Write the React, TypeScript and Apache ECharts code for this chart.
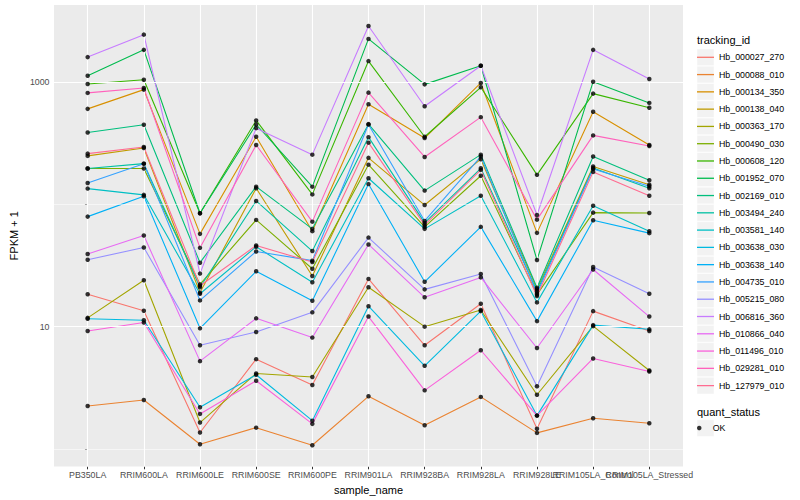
import React, { useEffect, useRef } from "react";
import * as echarts from "echarts";

const categories = [
  "PB350LA", "RRIM600LA", "RRIM600LE", "RRIM600SE", "RRIM600PE", "RRIM901LA",
  "RRIM928BA", "RRIM928LA", "RRIM928LE", "RRIM105LA_Control", "RRIM105LA_Stressed",
];

const trackingIds = [
  "Hb_000027_270", "Hb_000088_010", "Hb_000134_350", "Hb_000138_040", "Hb_000363_170",
  "Hb_000490_030", "Hb_000608_120", "Hb_001952_070", "Hb_002169_010", "Hb_003494_240",
  "Hb_003581_140", "Hb_003638_030", "Hb_003638_140", "Hb_004735_010", "Hb_005215_080",
  "Hb_006816_360", "Hb_010866_040", "Hb_011496_010", "Hb_029281_010", "Hb_127979_010",
];

const colors = [
  "#F8766D", "#EA8331", "#D89000", "#C09B00", "#A3A500", "#7CAE00", "#39B600", "#00BB4E",
  "#00BF7D", "#00C1A3", "#00BFC4", "#00BAE0", "#00B0F6", "#35A2FF", "#9590FF", "#C77CFF",
  "#E76BF3", "#FA62DB", "#FF62BC", "#FF6C91",
];

// FPKM + 1 per sample (order of categories)
const hb000027_270 = [18.4, 13.5, 1.36, 5.42, 3.33, 24.6, 7.04, 15.4, 1.46, 13.4, 9.21];
const hb000088_010 = [2.24, 2.51, 1.09, 1.49, 1.07, 2.69, 1.56, 2.66, 1.35, 1.78, 1.62];
const hb000134_350 = [607, 872, 57.5, 359, 60.5, 662, 350, 989, 58.6, 574, 307];
const hb000138_040 = [250, 290, 19.0, 136, 26.0, 241, 99, 235, 20.3, 205, 145];
const hb000363_170 = [11.8, 24.0, 1.64, 4.14, 3.87, 21.0, 10.0, 13.7, 2.77, 10.1, 4.38];
const hb000490_030 = [197, 197, 22.2, 74.8, 29.8, 212, 65.6, 172, 18.3, 85.8, 85.3];
const hb000608_120 = [970, 1052, 84.8, 488, 121, 1494, 359, 911, 175, 809, 619];
const hb001952_070 = [1134, 1846, 84.8, 452, 140, 2269, 963, 1368, 35.1, 1013, 679];
const hb002169_010 = [389, 450, 33.4, 140, 63.2, 455, 130, 256, 20.8, 247, 158];
const hb003494_240 = [197, 216, 21.0, 107, 41.6, 356, 70.7, 198, 19.5, 199, 136];
const hb003581_140 = [135, 120, 18.6, 45.1, 23.1, 164, 63.2, 118, 15.8, 97.8, 60.5];
const hb003638_030 = [11.6, 11.3, 2.19, 4.04, 1.70, 14.7, 4.78, 13.4, 1.87, 10.3, 9.51];
const hb003638_140 = [79.6, 117, 9.69, 28.4, 16.3, 147, 23.3, 65.6, 11.1, 74.3, 58.3];
const hb004735_010 = [150, 216, 16.4, 41.3, 34.7, 452, 73.4, 247, 18.8, 195, 141];
const hb005215_080 = [35.3, 44.5, 7.04, 9.04, 13.1, 53.6, 20.2, 27.0, 3.25, 30.8, 18.6];
const hb006816_360 = [1610, 2459, 27.2, 422, 256, 2894, 638, 1368, 82.1, 1846, 1066];
const hb010866_040 = [39.3, 55.7, 5.22, 11.7, 8.14, 47.1, 17.4, 25.3, 6.69, 29.4, 12.1];
const hb011496_010 = [9.21, 10.8, 1.93, 3.61, 1.60, 12.1, 3.01, 6.41, 1.87, 5.49, 4.30];
const hb029281_010 = [820, 900, 44.2, 307, 72.4, 824, 245, 519, 75.2, 368, 301];
const hb127979_010 = [261, 296, 21.6, 46.2, 33.8, 321, 68.1, 192, 17.8, 185, 118];

const seriesValues = [
  hb000027_270, hb000088_010, hb000134_350, hb000138_040, hb000363_170,
  hb000490_030, hb000608_120, hb001952_070, hb002169_010, hb003494_240,
  hb003581_140, hb003638_030, hb003638_140, hb004735_010, hb005215_080,
  hb006816_360, hb010866_040, hb011496_010, hb029281_010, hb127979_010,
];

const yLabelValues = [10, 1000];
const yMajorGrid = [10, 1000];
const yMinorGrid = [1, 100];
const quantStatus = ["OK"];

const FONT = "'Liberation Sans', Arial, Helvetica, sans-serif";

export default function App() {
  const ref = useRef<HTMLDivElement>(null);

  useEffect(() => {
    if (!ref.current) return;
    const chart = echarts.init(ref.current, null, { renderer: "svg" });

    const catIdx = categories.map((_, i) => i);
    const X_MIN = -0.6;
    const X_MAX = categories.length - 1 + 0.6;
    // padded label positions: the outer two are blank placeholders so that no
    // real category label is dropped by the min/max overlap rule
    const labelPositions = [X_MIN, ...catIdx, X_MAX];

    const lineSeries = trackingIds.map((id, s) => ({
      name: id,
      type: "line",
      data: seriesValues[s].map((v, j) => [j, v]),
      symbol: "none",
      showSymbol: false,
      lineStyle: { color: colors[s], width: 1.1 },
      itemStyle: { color: colors[s] },
      z: 3,
      silent: true,
    }));

    const points: number[][] = [];
    seriesValues.forEach((vals) => vals.forEach((v, j) => points.push([j, v])));

    const legendTop = 48.66;
    const legendStep = 17.28;
    const keyRects = trackingIds.map((_, i) => ({
      type: "rect",
      shape: { x: 697, y: legendTop + i * legendStep + 0.3, width: 17, height: legendStep - 0.6 },
      style: { fill: "#F2F2F2", stroke: "#FFFFFF", lineWidth: 0.5 },
      z: 0,
    }));

    const okTop = 419.4;

    const isLabelValue = (v: number) => yLabelValues.some((t) => Math.abs(v - t) / t < 1e-3);

    const option: any = {
      animation: false,
      backgroundColor: "#FFFFFF",
      textStyle: { fontFamily: FONT },
      grid: {
        left: 46,
        right: 117,
        top: 5,
        bottom: 31,
        show: true,
        backgroundColor: "#EBEBEB",
        borderWidth: 0,
      },
      xAxis: {
        type: "value",
        min: X_MIN,
        max: X_MAX,
        name: "sample_name",
        nameLocation: "middle",
        nameGap: 13,
        nameTextStyle: { fontSize: 11, color: "#000000", fontFamily: FONT, verticalAlign: "top" },
        axisLine: { show: false },
        splitLine: { show: false },
        axisTick: {
          show: true,
          customValues: catIdx,
          length: 2.7,
          lineStyle: { color: "#333333", width: 1 },
        },
        axisLabel: {
          customValues: labelPositions,
          showMinLabel: false,
          showMaxLabel: false,
          formatter: (v: number) => {
            const i = Math.round(v);
            return Math.abs(v - i) < 1e-6 && categories[i] ? categories[i] : " ";
          },
          fontSize: 8.8,
          color: "#4D4D4D",
          margin: 3.5,
          fontFamily: FONT,
          hideOverlap: false,
        },
      },
      yAxis: {
        type: "log",
        logBase: 10,
        min: 0.715,
        max: 4300,
        name: "FPKM + 1",
        nameLocation: "middle",
        nameRotate: 90,
        nameGap: 28,
        nameTextStyle: { fontSize: 11, color: "#000000", fontFamily: FONT },
        axisLine: { show: false },
        splitLine: { show: false },
        axisTick: {
          show: true,
          length: 2.7,
          lineStyle: { color: "#333333", width: 1 },
        },
        axisLabel: {
          showMinLabel: false,
          showMaxLabel: false,
          formatter: (v: number) => (isLabelValue(v) ? String(Math.round(v)) : ""),
          fontSize: 8.8,
          color: "#4D4D4D",
          margin: 4.5,
          fontFamily: FONT,
        },
      },
      legend: [
        {
          orient: "vertical",
          left: 697,
          top: legendTop,
          padding: 0,
          itemGap: 0,
          itemWidth: 17,
          itemHeight: 1.3,
          icon: "rect",
          selectedMode: false,
          data: trackingIds.map((id, i) => ({ name: id, itemStyle: { color: colors[i] } })),
          textStyle: { fontSize: 8.8, lineHeight: legendStep, color: "#000000", fontFamily: FONT },
        },
        {
          orient: "vertical",
          left: 697,
          top: okTop,
          padding: 0,
          itemGap: 0,
          itemWidth: 17,
          itemHeight: 4.5,
          icon: "circle",
          selectedMode: false,
          data: quantStatus.map((q) => ({ name: q, itemStyle: { color: "#000000" } })),
          textStyle: { fontSize: 8.8, lineHeight: legendStep, color: "#000000", fontFamily: FONT },
        },
      ],
      graphic: [
        {
          type: "text",
          x: 697,
          y: 40,
          style: { text: "tracking_id", fontSize: 11, fill: "#000000", fontFamily: FONT, verticalAlign: "middle" },
        },
        {
          type: "text",
          x: 697,
          y: 411.7,
          style: { text: "quant_status", fontSize: 11, fill: "#000000", fontFamily: FONT, verticalAlign: "middle" },
        },
        ...keyRects,
        {
          type: "rect",
          shape: { x: 697, y: okTop + 0.3, width: 17, height: legendStep - 0.6 },
          style: { fill: "#F2F2F2", stroke: "#FFFFFF", lineWidth: 0.5 },
          z: 0,
        },
      ],
      series: [
        {
          name: "__grid",
          type: "line",
          data: [],
          silent: true,
          z: 1,
          markLine: {
            silent: true,
            symbol: ["none", "none"],
            label: { show: false },
            animation: false,
            emphasis: { disabled: true },
            data: [
              ...yMinorGrid.map((v) => ({ yAxis: v, lineStyle: { color: "#FFFFFF", width: 0.55, type: "solid" } })),
              ...yMajorGrid.map((v) => ({ yAxis: v, lineStyle: { color: "#FFFFFF", width: 1.1, type: "solid" } })),
              ...catIdx.map((v) => ({ xAxis: v, lineStyle: { color: "#FFFFFF", width: 1.1, type: "solid" } })),
            ],
          },
        },
        ...lineSeries,
        {
          name: "OK",
          type: "scatter",
          data: points,
          symbol: "circle",
          symbolSize: 4.5,
          itemStyle: { color: "#000000" },
          z: 5,
          silent: true,
        },
      ],
    };

    chart.setOption(option);
    return () => chart.dispose();
  }, []);

  return (
    <div
      ref={ref}
      style={{ position: "fixed", left: 0, top: 0, width: 800, height: 500 }}
    />
  );
}
